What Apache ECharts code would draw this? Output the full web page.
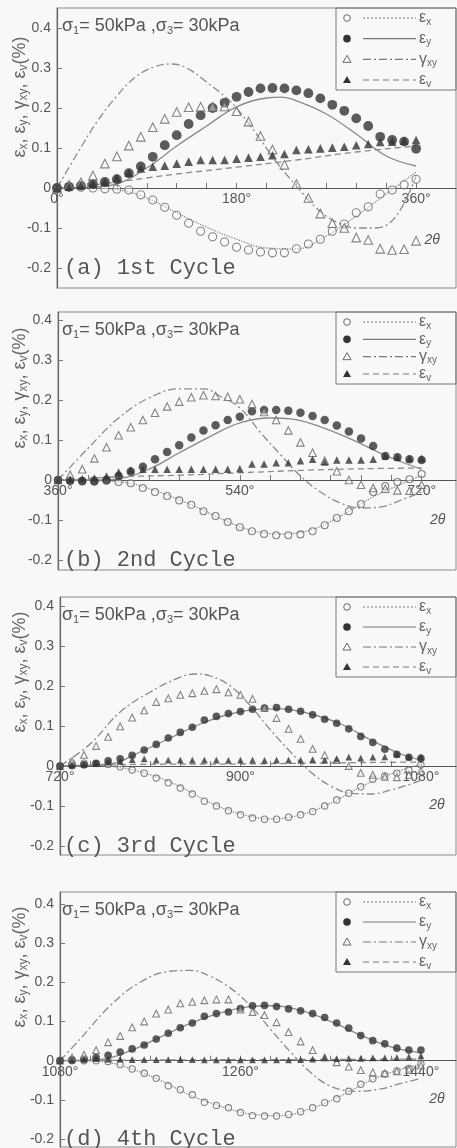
<!DOCTYPE html>
<html><head><meta charset="utf-8">
<script src="https://cdn.jsdelivr.net/npm/echarts@6/dist/echarts.min.js"></script>
<style>html,body{margin:0;padding:0;background:#f8f8f6}#c{width:457px;height:1148px}</style>
</head><body><div id="c"></div><script>
// ---------- data ----------
const ANG = [0,12,24,36,48,60,72,84,96,108,120,132,144,156,168,180,192,204,216,228,240,252,264,276,288,300,312,324,336,348,360];
const CYCLE_START = [0,360,720,1080];
const CYCLE_NAMES = ['(a) 1st Cycle','(b) 2nd Cycle','(c) 3rd Cycle','(d) 4th Cycle'];
const Y_TICKS = [-0.2,-0.1,0,0.1,0.2,0.3,0.4];
const X_LABELS = [[0,180,360],[360,540,720],[720,900,1080],[1080,1260,1440]];

// cycle 1 measured
const ex1 = [0,0.003,0.002,0,-0.002,-0.003,-0.005,-0.017,-0.03,-0.048,-0.068,-0.088,-0.108,-0.122,-0.135,-0.148,-0.155,-0.16,-0.162,-0.162,-0.152,-0.14,-0.128,-0.108,-0.09,-0.062,-0.047,-0.015,-0.005,0.008,0.022];
const ey1 = [0,0.003,0.006,0.01,0.015,0.022,0.037,0.054,0.078,0.107,0.132,0.16,0.182,0.2,0.213,0.228,0.24,0.249,0.25,0.249,0.244,0.237,0.224,0.208,0.193,0.174,0.155,0.128,0.12,0.116,0.098];
const gxy1 = [0,0.008,0.014,0.031,0.061,0.079,0.106,0.128,0.152,0.173,0.19,0.202,0.203,0.203,0.204,0.192,0.166,0.13,0.096,0.058,0.01,-0.025,-0.064,-0.088,-0.1,-0.124,-0.13,-0.152,-0.155,-0.153,-0.132];
const ev1 = [0,0.003,0.007,0.01,0.015,0.025,0.038,0.049,0.053,0.056,0.061,0.066,0.07,0.07,0.07,0.073,0.076,0.078,0.082,0.085,0.095,0.097,0.099,0.101,0.103,0.107,0.11,0.115,0.116,0.118,0.12];
// cycle 1 model lines
const exL1_ang = [0,30,60,90,120,150,180,210,240,270,300,330,360];
const exL1 = [0,0,-0.004,-0.025,-0.062,-0.098,-0.128,-0.15,-0.152,-0.12,-0.07,-0.015,0.04];
const eyL1_ang = [0,30,60,90,120,150,180,210,225,240,270,300,330,360];
const eyL1 = [0,0.002,0.01,0.05,0.105,0.155,0.203,0.225,0.227,0.218,0.185,0.135,0.08,0.055];
const gxyL1_ang = [0,20,40,60,80,100,115,130,150,170,180,200,220,240,260,280,300,320,340,360];
const gxyL1 = [0,0.085,0.165,0.23,0.28,0.305,0.31,0.3,0.265,0.225,0.2,0.135,0.065,0.005,-0.05,-0.085,-0.1,-0.1,-0.07,0.03];
const evL1_ang = [0,30,60,90,120,180,240,300,360];
const evL1 = [0,0.006,0.015,0.025,0.035,0.052,0.07,0.09,0.105];

// cycle 2 measured
const ex2 = [0,-0.002,-0.002,-0.001,-0.002,-0.005,-0.008,-0.02,-0.03,-0.04,-0.051,-0.062,-0.078,-0.09,-0.105,-0.118,-0.128,-0.135,-0.138,-0.138,-0.136,-0.128,-0.113,-0.095,-0.078,-0.06,-0.03,-0.015,-0.005,0.002,0.015];
const ey2 = [0,-0.002,-0.003,-0.004,0,0.01,0.021,0.033,0.052,0.07,0.087,0.106,0.124,0.137,0.15,0.158,0.172,0.175,0.175,0.173,0.168,0.16,0.15,0.136,0.121,0.104,0.085,0.06,0.057,0.052,0.05];
const gxy2 = [0,0.013,0.027,0.054,0.082,0.112,0.132,0.15,0.168,0.184,0.196,0.207,0.212,0.21,0.208,0.202,0.19,0.17,0.15,0.124,0.094,0.068,0.048,0.022,0,-0.012,-0.02,-0.022,-0.026,-0.027,-0.012];
const ev2 = [0,0.002,0.003,0.005,0.01,0.02,0.025,0.027,0.027,0.027,0.027,0.027,0.027,0.027,0.027,0.028,0.04,0.04,0.043,0.043,0.048,0.052,0.045,0.05,0.05,0.05,0.052,0.06,0.057,0.054,0.054];
const exL2_ang = [360,400,430,460,490,520,550,580,610,640,670,700,720];
const exL2 = [0,-0.002,-0.008,-0.03,-0.06,-0.095,-0.125,-0.135,-0.125,-0.09,-0.045,-0.01,0.012];
const eyL2_ang = [360,400,420,450,480,510,540,570,590,620,650,680,700,720];
const eyL2 = [0,0,0.003,0.027,0.068,0.108,0.143,0.155,0.153,0.133,0.102,0.066,0.045,0.027];
const gxyL2_ang = [360,390,420,450,480,505,520,540,560,580,600,620,640,660,680,700,720];
const gxyL2 = [0,0.08,0.155,0.205,0.228,0.228,0.21,0.18,0.12,0.064,0.01,-0.03,-0.058,-0.07,-0.067,-0.05,-0.03];
const evL2_ang = [360,420,480,540,600,660,720];
const evL2 = [0,0.008,0.012,0.018,0.024,0.028,0.03];

// cycle 3 measured
const ex3 = [0,0.006,0.007,0.006,0.004,-0.002,-0.01,-0.018,-0.03,-0.042,-0.055,-0.07,-0.088,-0.1,-0.112,-0.122,-0.13,-0.133,-0.133,-0.128,-0.122,-0.114,-0.1,-0.085,-0.068,-0.052,-0.033,-0.025,-0.018,-0.01,0.003];
const ey3 = [0,0.001,0.003,0.007,0.013,0.018,0.027,0.04,0.054,0.07,0.084,0.097,0.115,0.124,0.131,0.136,0.142,0.145,0.146,0.142,0.137,0.128,0.117,0.107,0.093,0.074,0.059,0.042,0.029,0.022,0.019];
const gxy3 = [0,0.012,0.028,0.05,0.073,0.099,0.121,0.139,0.16,0.169,0.178,0.182,0.188,0.192,0.184,0.178,0.168,0.145,0.12,0.093,0.068,0.043,0.027,0.015,0,-0.017,-0.022,-0.027,-0.028,-0.022,-0.012];
const ev3 = [0,0.002,0.004,0.007,0.01,0.012,0.016,0.018,0.015,0.015,0.015,0.015,0.015,0.015,0.014,0.015,0.015,0.014,0.015,0.015,0.015,0.016,0.015,0.018,0.022,0.02,0.022,0.023,0.03,0.022,0.023];
const exL3_ang = [720,750,780,810,840,870,900,930,960,990,1020,1050,1080];
const exL3 = [0,0.002,-0.004,-0.022,-0.052,-0.092,-0.12,-0.132,-0.122,-0.093,-0.052,-0.02,0.005];
const eyL3_ang = [720,770,800,830,860,890,920,940,970,1000,1030,1060,1080];
const eyL3 = [0,0.005,0.035,0.07,0.105,0.13,0.142,0.143,0.13,0.105,0.065,0.03,0.015];
const gxyL3_ang = [720,750,780,810,840,855,870,890,910,930,950,970,990,1010,1030,1050,1070,1080];
const gxyL3 = [0,0.055,0.135,0.185,0.222,0.23,0.225,0.2,0.15,0.09,0.035,-0.015,-0.05,-0.068,-0.07,-0.06,-0.045,-0.035];
const evL3_ang = [720,800,900,1000,1080];
const evL3 = [0,0.004,0.005,0.008,0.01];

// cycle 4 measured
const ex4 = [0,0,0,0,-0.002,-0.01,-0.021,-0.032,-0.045,-0.064,-0.074,-0.087,-0.106,-0.114,-0.12,-0.132,-0.14,-0.141,-0.141,-0.137,-0.13,-0.12,-0.107,-0.097,-0.078,-0.06,-0.046,-0.034,-0.026,-0.02,-0.008];
const ey4 = [0,0.002,0.004,0.008,0.014,0.022,0.03,0.04,0.055,0.07,0.084,0.096,0.113,0.12,0.124,0.133,0.14,0.141,0.138,0.132,0.127,0.12,0.11,0.096,0.083,0.064,0.051,0.043,0.032,0.027,0.027];
const gxy4 = [0,0.008,0.015,0.027,0.047,0.063,0.085,0.1,0.12,0.13,0.146,0.15,0.154,0.156,0.156,0.13,0.124,0.116,0.098,0.073,0.049,0.027,0.008,-0.004,-0.015,-0.024,-0.03,-0.032,-0.027,-0.023,-0.012];
const ev4 = [0,0.002,0.004,0.005,0.004,0.004,0.003,0.003,0.003,0.003,0.003,0.003,0.002,0.002,0.002,0.002,0.002,0.002,0.002,0.002,0.003,0.004,0.008,0.005,0.006,0.006,0.007,0.007,0.008,0.01,0.012];
const exL4_ang = [1080,1120,1150,1180,1210,1240,1270,1300,1330,1360,1390,1420,1440];
const exL4 = [0,-0.002,-0.02,-0.05,-0.088,-0.116,-0.136,-0.14,-0.122,-0.09,-0.05,-0.022,-0.01];
const eyL4_ang = [1080,1120,1150,1180,1210,1240,1270,1290,1320,1350,1380,1410,1440];
const eyL4 = [0,0.003,0.025,0.06,0.095,0.122,0.138,0.14,0.128,0.1,0.065,0.035,0.02];
const gxyL4_ang = [1080,1100,1130,1160,1190,1210,1230,1250,1270,1290,1310,1330,1350,1375,1400,1420,1440];
const gxyL4 = [0,0.055,0.14,0.2,0.228,0.23,0.215,0.185,0.14,0.08,0.022,-0.03,-0.065,-0.078,-0.072,-0.058,-0.045];
const evL4_ang = [1080,1200,1320,1440];
const evL4 = [0,0.002,0.003,0.004];

// ---------- assembly ----------
const MEAS = [[ex1,ey1,gxy1,ev1],[ex2,ey2,gxy2,ev2],[ex3,ey3,gxy3,ev3],[ex4,ey4,gxy4,ev4]];
const LINES = [
  [[exL1_ang,exL1],[eyL1_ang,eyL1],[gxyL1_ang,gxyL1],[evL1_ang,evL1]],
  [[exL2_ang,exL2],[eyL2_ang,eyL2],[gxyL2_ang,gxyL2],[evL2_ang,evL2]],
  [[exL3_ang,exL3],[eyL3_ang,eyL3],[gxyL3_ang,gxyL3],[evL3_ang,evL3]],
  [[exL4_ang,exL4],[eyL4_ang,eyL4],[gxyL4_ang,gxyL4],[evL4_ang,evL4]]
];
const LAYOUT = [
  {top:8,  height:280, left:57, xMax:400,  yMin:-0.25,   yMax:0.45,   legH:82, sc:1.15, tdy:52, ty:89},
  {top:312,height:258, left:58, xMax:754,  yMin:-0.225,  yMax:0.42,   legH:72, sc:1.0,  tdy:40, ty:76},
  {top:597,height:258, left:60, xMax:1115, yMin:-0.2225, yMax:0.4225, legH:80, sc:0.9,  tdy:39, ty:75},
  {top:892,height:255, left:60, xMax:1475, yMin:-0.22,   yMax:0.43,   legH:80, sc:0.9,  tdy:38, ty:75}
];
const LINE_TYPES = ['dotted','solid',[8,3,2,3],[6,4]];
const FONT = 'Liberation Sans, Arial, sans-serif';
const TXT = '#555';

const grid=[], xAxis=[], yAxis=[], series=[];
LAYOUT.forEach((L,p)=>{
  const s0 = CYCLE_START[p];
  grid.push({left:L.left, right:1, top:L.top, height:L.height, show:true, borderColor:'#8a8a8a', borderWidth:1});
  const xt=[]; for(let a=s0;a<=s0+360;a+=30) xt.push(a);
  const zeroOffset = -L.height*(0-L.yMin)/(L.yMax-L.yMin);
  xAxis.push({gridIndex:p,type:'value',min:s0,max:L.xMax,offset:zeroOffset,
    axisLine:{onZero:false,lineStyle:{color:'#555',width:1.2}},
    axisTick:{show:true,inside:true,length:5,customValues:xt,lineStyle:{color:'#777'}},
    axisLabel:{customValues:X_LABELS[p],formatter:v=>v+'°',color:TXT,fontSize:14,fontFamily:FONT,margin:4},
    splitLine:{show:false}});
  yAxis.push({gridIndex:p,type:'value',min:L.yMin,max:L.yMax,
    axisLine:{show:true,onZero:false,lineStyle:{color:'#666',width:1.2}},
    axisTick:{show:true,inside:true,length:5,customValues:Y_TICKS,lineStyle:{color:'#777'}},
    axisLabel:{customValues:Y_TICKS,formatter:v=>v===0?'0':v.toFixed(1),color:TXT,fontSize:14,fontFamily:FONT,margin:6},
    splitLine:{show:false}});
  LINES[p].forEach((ln,k)=>{
    series.push({type:'line',xAxisIndex:p,yAxisIndex:p,smooth:0.4,showSymbol:false,silent:true,z:2,
      data:ln[0].map((a,i)=>[a,ln[1][i]]),
      lineStyle:{color:'#8a8a8a',width:1.3,type:LINE_TYPES[k]}});
  });
  const sc=L.sc;
  const mstyle=[
    {symbol:'circle',size:7*sc,item:{color:'rgba(255,255,255,0.5)',borderColor:'#666',borderWidth:1.1}},
    {symbol:'circle',size:8.5*sc,item:{color:'#333'}},
    {symbol:'triangle',size:7.5*sc,item:{color:'rgba(255,255,255,0.5)',borderColor:'#666',borderWidth:1.1}},
    {symbol:'triangle',size:7.5*sc,item:{color:'#333'}}
  ];
  MEAS[p].forEach((vals,k)=>{
    series.push({type:'scatter',xAxisIndex:p,yAxisIndex:p,silent:true,z:3,
      symbol:mstyle[k].symbol,symbolSize:mstyle[k].size,itemStyle:mstyle[k].item,
      data:ANG.map((a,i)=>[s0+a,vals[i]])});
  });
});

const chart = echarts.init(document.getElementById('c'),null,{renderer:'canvas'});
chart.setOption({animation:false,backgroundColor:'#f8f8f6',grid,xAxis,yAxis,series});

// ---------- annotations ----------
const sub = {fontSize:11,fontFamily:FONT,fill:TXT,padding:[9,0,0,0]};
const graphic=[];
const LEG_LABELS=['{t|ε}{s|x}','{t|ε}{s|y}','{t|γ}{s|xy}','{t|ε}{s|v}'];
LAYOUT.forEach((L,p)=>{
  const s0=CYCLE_START[p];
  const zero = chart.convertToPixel({gridIndex:p},[s0+360,0]);
  const m2 = chart.convertToPixel({gridIndex:p},[s0,-0.2]);
  graphic.push({type:'text',x:62,y:L.top+18,silent:true,style:{
    text:'{t|σ}{s|1}{t|= 50kPa ,σ}{s|3}{t|= 30kPa}',verticalAlign:'middle',
    rich:{t:{fontSize:18,fontFamily:FONT,fill:'#555'},s:sub}}});
  graphic.push({type:'text',x:64,y:m2[1],silent:true,style:{text:CYCLE_NAMES[p],
    font:'22px "Liberation Mono", "DejaVu Sans Mono", monospace',fill:'#555',verticalAlign:'middle'}});
  graphic.push({type:'text',x:zero[0]+16,y:zero[1]+L.tdy,silent:true,style:{text:'2θ',
    font:'italic 14px '+FONT,fill:TXT,align:'center',verticalAlign:'middle'}});
  graphic.push({type:'text',x:20,y:L.top+L.ty,rotation:Math.PI/2,silent:true,style:{
    text:'{t|ε}{s|x}{t|, ε}{s|y}{t|, γ}{s|xy}{t|, ε}{s|v}{t|(%)}',align:'center',verticalAlign:'middle',
    rich:{t:{fontSize:18,fontFamily:FONT,fill:'#666'},s:{fontSize:12,fontFamily:FONT,fill:'#666',padding:[8,0,0,0]}}}});
  const bx=336, by=L.top, bw=120, bh=L.legH;
  graphic.push({type:'rect',silent:true,shape:{x:bx,y:by,width:bw,height:bh},style:{fill:'rgba(255,255,255,0)',stroke:'#777',lineWidth:1}});
  for(let k=0;k<4;k++){
    const ry = by+10+(bh-20)*k/3;
    const mx = bx+11;
    if(k===0) graphic.push({type:'circle',silent:true,shape:{cx:mx,cy:ry,r:3.3},style:{fill:'none',stroke:'#666',lineWidth:1}});
    if(k===1) graphic.push({type:'circle',silent:true,shape:{cx:mx,cy:ry,r:3.8},style:{fill:'#333'}});
    if(k===2) graphic.push({type:'polygon',silent:true,shape:{points:[[mx,ry-4],[mx-4,ry+3],[mx+4,ry+3]]},style:{fill:'none',stroke:'#666',lineWidth:1}});
    if(k===3) graphic.push({type:'polygon',silent:true,shape:{points:[[mx,ry-4],[mx-4,ry+3],[mx+4,ry+3]]},style:{fill:'#333'}});
    graphic.push({type:'line',silent:true,shape:{x1:bx+27,y1:ry,x2:bx+80,y2:ry},style:{stroke:'#777',lineWidth:1.2,
      lineDash: k===0?[2,2]:k===1?null:k===2?[8,3,2,3]:[6,4]}});
    graphic.push({type:'text',silent:true,x:bx+83,y:ry,style:{text:LEG_LABELS[k],verticalAlign:'middle',
      rich:{t:{fontSize:16,fontFamily:FONT,fill:'#666'},s:{fontSize:10,fontFamily:FONT,fill:'#666',padding:[8,0,0,0]}}}});
  }
});
chart.setOption({graphic});
</script></body></html>
